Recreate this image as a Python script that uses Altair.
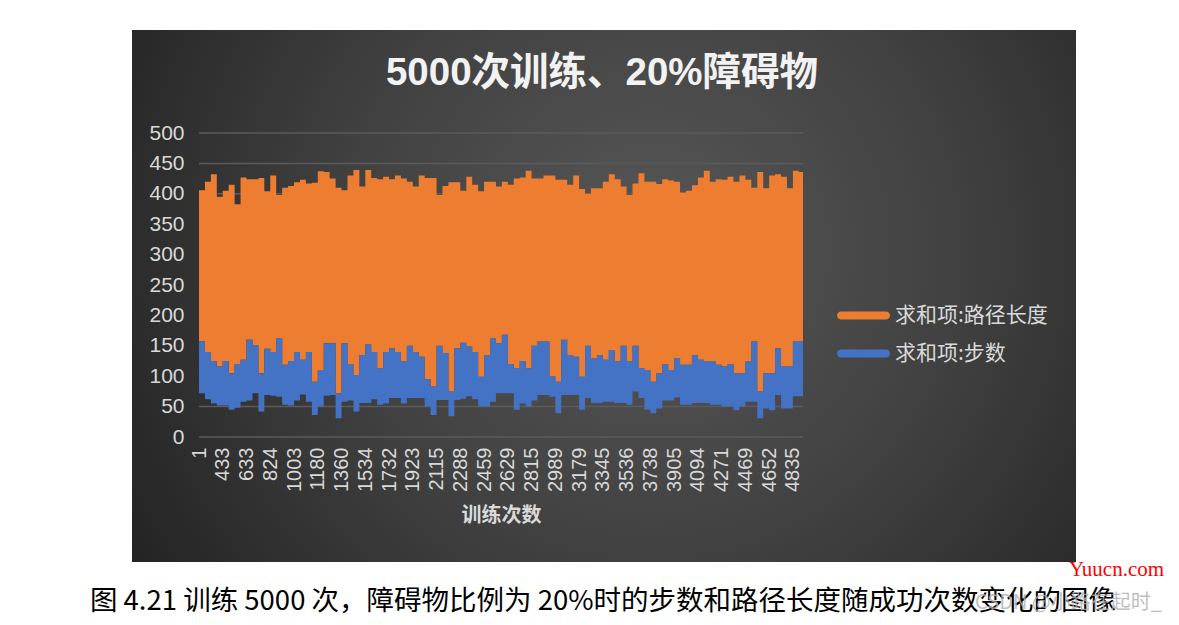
import altair as alt
import pandas as pd

# ---------------- data ----------------
x_labels = ["1", "433", "633", "824", "1003", "1180", "1360", "1534", "1732", "1923",
            "2115", "2288", "2459", "2629", "2815", "2989", "3179", "3345", "3536",
            "3738", "3905", "4094", "4271", "4469", "4652", "4835"]
y_ticks = [0, 50, 100, 150, 200, 250, 300, 350, 400, 450, 500]
series_names = ["求和项:路径长度", "求和项:步数"]
series_colors = ["#ED7D31", "#4472C4"]

# envelope of the two series per bin along the category axis
path_max = [406, 420, 432, 395, 405, 415, 383, 427, 424, 424, 426, 404, 430, 398, 410, 413,
            419, 423, 417, 418, 437, 436, 425, 410, 406, 430,
            439, 412, 439, 426, 424, 428, 424, 430, 425, 420, 412, 430, 426, 426, 398, 413,
            419, 419, 405, 428, 415, 404, 420, 420,
            412, 420, 415, 425, 427, 438, 425, 425, 430, 430, 423, 423, 415, 430, 408, 400,
            409, 409, 420, 432, 424, 412, 398, 417, 434,
            420, 420, 416, 424, 422, 420, 402, 405, 414, 427, 438, 420, 424, 423, 428, 420,
            430, 423, 410, 436, 409, 430, 432, 428, 409, 438, 436]
path_min = [157, 140, 125, 116, 125, 105, 120, 127, 160, 151, 105, 145, 140, 163, 119, 125,
            140, 127, 140, 91, 110, 154, 154, 72, 154, 120,
            102, 135, 152, 140, 113, 140, 146, 140, 124, 150, 140, 132, 95, 83, 150, 138,
            75, 146, 155, 149, 140, 99, 135, 162,
            154, 168, 120, 113, 125, 113, 150, 157, 157, 100, 91, 160, 135, 132, 99, 150,
            129, 135, 127, 143, 124, 150, 124, 150, 113,
            110, 91, 105, 120, 110, 130, 119, 119, 135, 127, 124, 124, 119, 116, 120, 105,
            105, 124, 157, 75, 105, 105, 146, 116, 116, 157, 157]
steps_min = [72, 62, 55, 52, 52, 45, 48, 58, 60, 72, 42, 69, 68, 66, 53, 52, 60, 70, 58, 36,
             50, 68, 69, 31, 58, 60,
             42, 56, 56, 62, 53, 55, 64, 64, 55, 64, 64, 64, 50, 36, 61, 61, 34, 61, 63, 67,
             62, 50, 50, 58,
             72, 72, 72, 45, 55, 50, 60, 69, 69, 66, 39, 69, 69, 69, 45, 64, 56, 56, 58, 58,
             56, 56, 53, 75, 64,
             45, 39, 47, 60, 60, 65, 53, 53, 56, 56, 56, 53, 53, 50, 50, 44, 50, 58, 58, 31,
             47, 44, 69, 47, 47, 67, 67]

BINS_PER_LABEL = 4
X_END = 101.7

rows = []
n = len(path_max)
for i in range(n):
    rows.append({"x": i, "series": series_names[0], "lo": path_min[i], "hi": path_max[i]})
    rows.append({"x": i, "series": series_names[1], "lo": steps_min[i], "hi": path_min[i]})
rows.append({"x": X_END, "series": series_names[0], "lo": path_min[-1], "hi": path_max[-1]})
rows.append({"x": X_END, "series": series_names[1], "lo": steps_min[-1], "hi": path_min[-1]})
df = pd.DataFrame(rows)

W, H = 604, 304
LAT = "Liberation Sans, Noto Sans CJK SC"
CJK = "Noto Sans CJK SC"
TXT = "#d9d9d9"

x_scale = alt.Scale(domain=[0, X_END], nice=False, zero=False)
y_scale = alt.Scale(domain=[0, 500], nice=False)

label_arr = "[" + ",".join("'%s'" % s for s in x_labels) + "]"
x_tick_vals = [i * BINS_PER_LABEL for i in range(len(x_labels))]

y_axis = alt.Axis(values=y_ticks, domain=False, ticks=False, grid=False, labelFontSize=21,
                  labelFont=LAT, labelColor=TXT, labelPadding=15, title=None, zindex=1)

# ---------------- background panel ----------------
bg = alt.Chart(pd.DataFrame({"k": [0]})).mark_rect(
    color={
        "gradient": "radial",
        "x1": 0.55, "y1": 0.45, "r1": 0,
        "x2": 0.55, "y2": 0.45, "r2": 0.72,
        "stops": [
            {"offset": 0, "color": "#575757"},
            {"offset": 0.45, "color": "#414141"},
            {"offset": 1, "color": "#1c1c1c"},
        ],
    }
).encode(x=alt.value(-67), x2=alt.value(877), y=alt.value(-103), y2=alt.value(429))

grid = alt.Chart(pd.DataFrame({"hi": y_ticks})).mark_rule(
    color="#5b5b5b", strokeWidth=1.5
).encode(
    y=alt.Y("hi:Q", scale=y_scale, axis=y_axis),
    x=alt.value(0), x2=alt.value(W),
)

legend_path = "M-1.7,-0.3H1.7A0.3,0.3,0,0,1,1.7,0.3H-1.7A0.3,0.3,0,0,1,-1.7,-0.3Z"

area = alt.Chart(df).mark_area(interpolate="step-after").encode(
    x=alt.X("x:Q", scale=x_scale, axis=alt.Axis(
        values=x_tick_vals, labelExpr=label_arr + "[round(datum.value/%d)]" % BINS_PER_LABEL,
        labelAngle=270, labelAlign="right", labelBaseline="middle",
        labelOverlap=False, labelFlush=False, labelFontSize=20, labelFont=LAT,
        labelColor=TXT, labelPadding=10, domain=False, ticks=False, grid=False,
        title="训练次数", titleFont=CJK, titleFontSize=20, titleFontWeight="bold",
        titleColor=TXT, titlePadding=14, zindex=1)),
    y=alt.Y("hi:Q", scale=y_scale, axis=y_axis),
    y2="lo:Q",
    color=alt.Color("series:N", scale=alt.Scale(domain=series_names, range=series_colors),
                    legend=alt.Legend(orient="none", legendX=651, legendY=169, title=None,
                                      direction="vertical", padding=0, rowPadding=14,
                                      labelOffset=18, labelFontSize=21, labelFont=CJK,
                                      labelColor=TXT, symbolType=legend_path,
                                      symbolSize=702, symbolOpacity=1, symbolStrokeWidth=0,
                                      zindex=1)),
)

title_text = "5000次训练、20%障碍物"
title = alt.Chart(pd.DataFrame({"t": [title_text]})).mark_text(
    font=LAT, fontSize=38.5, fontWeight="bold", color="#f2f2f2", align="center",
    baseline="middle"
).encode(text="t:N", x=alt.value(403), y=alt.value(-60))

caption_text = "图 4.21 训练 5000 次，障碍物比例为 20%时的步数和路径长度随成功次数变化的图像"
caption = alt.Chart(pd.DataFrame({"t": [caption_text]})).mark_text(
    font=CJK, fontSize=27.5, color="#000000", align="center", baseline="middle"
).encode(text="t:N", x=alt.value(404), y=alt.value(469))

wm = alt.Chart(pd.DataFrame({"t": ["CSDN @小路在起时_"]})).mark_text(
    font=CJK, fontSize=20, color="#b0b0b0", opacity=0.8, align="left", baseline="middle"
).encode(text="t:N", x=alt.value(776), y=alt.value(470))

site = alt.Chart(pd.DataFrame({"t": ["Yuucn.com"]})).mark_text(
    font="Liberation Serif", fontSize=21, color="#ff0000", align="left", baseline="middle"
).encode(text="t:N", x=alt.value(870), y=alt.value(437))

chart = alt.layer(bg, grid, area, title, caption, wm, site).properties(
    width=W, height=H,
    padding={"left": 191, "top": 125, "right": 368, "bottom": 180},
    autosize=alt.AutoSizeParams(type="none"),
).configure_view(stroke=None).configure(background="white")

chart.save("out.html", embed_options={"renderer": "svg", "actions": False})
